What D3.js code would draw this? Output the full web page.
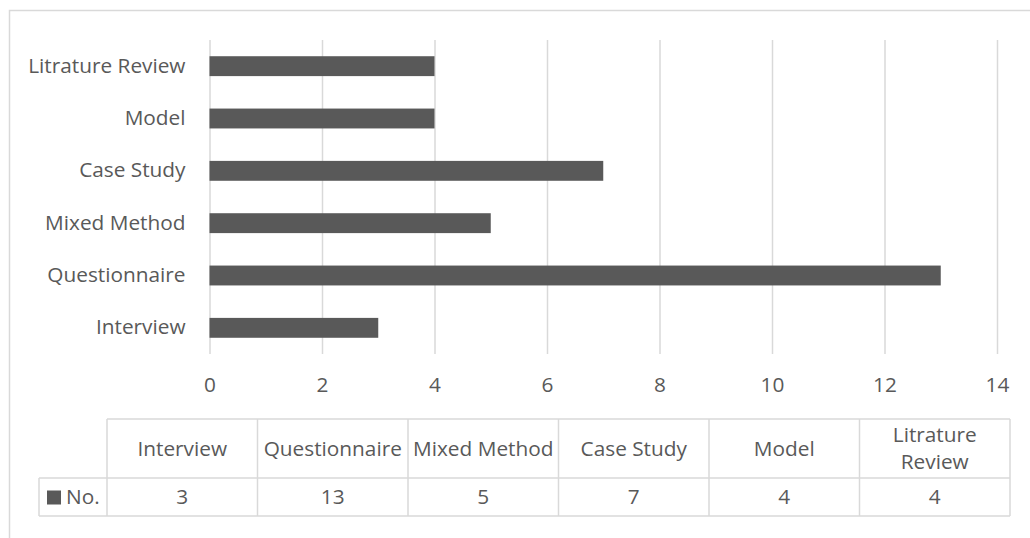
<!DOCTYPE html>
<html>
<head>
<meta charset="utf-8">
<script src="https://cdn.jsdelivr.net/npm/d3@7"></script>
<style>
  html, body { margin: 0; padding: 0; background: #fff; }
  svg { display: block; }
  text { font-family: "Open Sans", "Liberation Sans", sans-serif; fill: #595959; }
</style>
</head>
<body>
<svg id="chart" width="1030" height="538"></svg>
<script>
// Research methods and number of studies using each
const categories = ["Interview", "Questionnaire", "Mixed Method", "Case Study", "Model", "Litrature Review"];
const values = [3, 13, 5, 7, 4, 4];
const seriesName = "No.";
const xTicks = [0, 2, 4, 6, 8, 10, 12, 14];

const W = 1030, H = 538;
const fontSize = 20.8;
const gridColor = "#d9d9d9";
const barColor = "#595959";

const svg = d3.select("#chart");

// chart frame
svg.append("rect")
  .attr("x", 9.5).attr("y", 10.5)
  .attr("width", W).attr("height", H)
  .attr("fill", "none").attr("stroke", gridColor).attr("stroke-width", 1.5);

const plot = { left: 209.5, right: 997, top: 40, bottom: 354 };

const x = d3.scaleLinear().domain([0, 14]).range([plot.left, plot.right]);
const y = d3.scaleBand()
  .domain(categories.slice().reverse())
  .range([plot.top, plot.bottom])
  .paddingInner(0.62)
  .paddingOuter(0.31);

// vertical gridlines + value labels
const xAxis = svg.append("g")
  .attr("transform", `translate(0,${plot.bottom})`)
  .call(d3.axisBottom(x).tickValues(xTicks).tickSize(-(plot.bottom - plot.top)).tickPadding(23).tickFormat(d3.format("d")));
xAxis.select(".domain").remove();
xAxis.selectAll(".tick line").attr("stroke", gridColor).attr("stroke-width", 1.5);
xAxis.selectAll(".tick text")
  .style("font-size", fontSize + "px")
  .attr("fill", "#595959");

// bars
svg.append("g").selectAll("rect")
  .data(categories.map((c, i) => ({ c, v: values[i] })))
  .join("rect")
  .attr("x", x(0))
  .attr("y", d => y(d.c))
  .attr("width", d => x(d.v) - x(0))
  .attr("height", y.bandwidth())
  .attr("fill", barColor);

// category labels
const yAxis = svg.append("g")
  .attr("transform", `translate(${plot.left},0)`)
  .call(d3.axisLeft(y).tickSize(0).tickPadding(24));
yAxis.select(".domain").remove();
yAxis.selectAll(".tick text")
  .style("font-size", fontSize + "px")
  .attr("fill", "#595959");

// data table below the chart
const table = { left: 107, right: 1010, top: 419, mid: 478, bottom: 516, keyLeft: 39 };
const col = d3.scaleBand().domain(categories).range([table.left, table.right]);
const tg = svg.append("g");
const line = (x1, y1, x2, y2) => tg.append("line")
  .attr("x1", x1).attr("y1", y1).attr("x2", x2).attr("y2", y2)
  .attr("stroke", gridColor).attr("stroke-width", 1.5);

line(table.left, table.top, table.right, table.top);
line(table.keyLeft, table.mid, table.right, table.mid);
line(table.keyLeft, table.bottom, table.right, table.bottom);
line(table.keyLeft, table.mid, table.keyLeft, table.bottom);
categories.forEach(c => line(col(c), table.top, col(c), table.bottom));
line(table.right, table.top, table.right, table.bottom);

// header cells (wrap words that do not fit)
categories.forEach(c => {
  const cx = col(c) + col.bandwidth() / 2;
  const t = tg.append("text")
    .attr("x", cx).attr("text-anchor", "middle")
    .style("font-size", fontSize + "px");
  t.text(c);
  let lines = [c];
  if (t.node().getComputedTextLength() > col.bandwidth() - 4) {
    lines = c.split(" ");
  }
  t.text(null);
  const lh = 27;
  const cy = (table.top + table.mid) / 2;
  lines.forEach((s, i) => {
    t.append("tspan")
      .attr("x", cx)
      .attr("y", cy + (i - (lines.length - 1) / 2) * lh)
      .attr("dy", "0.35em")
      .text(s);
  });
});

// value cells
categories.forEach((c, i) => {
  tg.append("text")
    .attr("x", col(c) + col.bandwidth() / 2)
    .attr("y", (table.mid + table.bottom) / 2)
    .attr("dy", "0.35em")
    .attr("text-anchor", "middle")
    .style("font-size", fontSize + "px")
    .text(values[i]);
});

// legend key cell
const keyMidY = (table.mid + table.bottom) / 2;
tg.append("rect")
  .attr("x", 47).attr("y", keyMidY - 6.5)
  .attr("width", 14).attr("height", 14)
  .attr("fill", barColor);
tg.append("text")
  .attr("x", 66).attr("y", keyMidY)
  .attr("dy", "0.35em")
  .style("font-size", fontSize + "px")
  .text(seriesName);
</script>
</body>
</html>
